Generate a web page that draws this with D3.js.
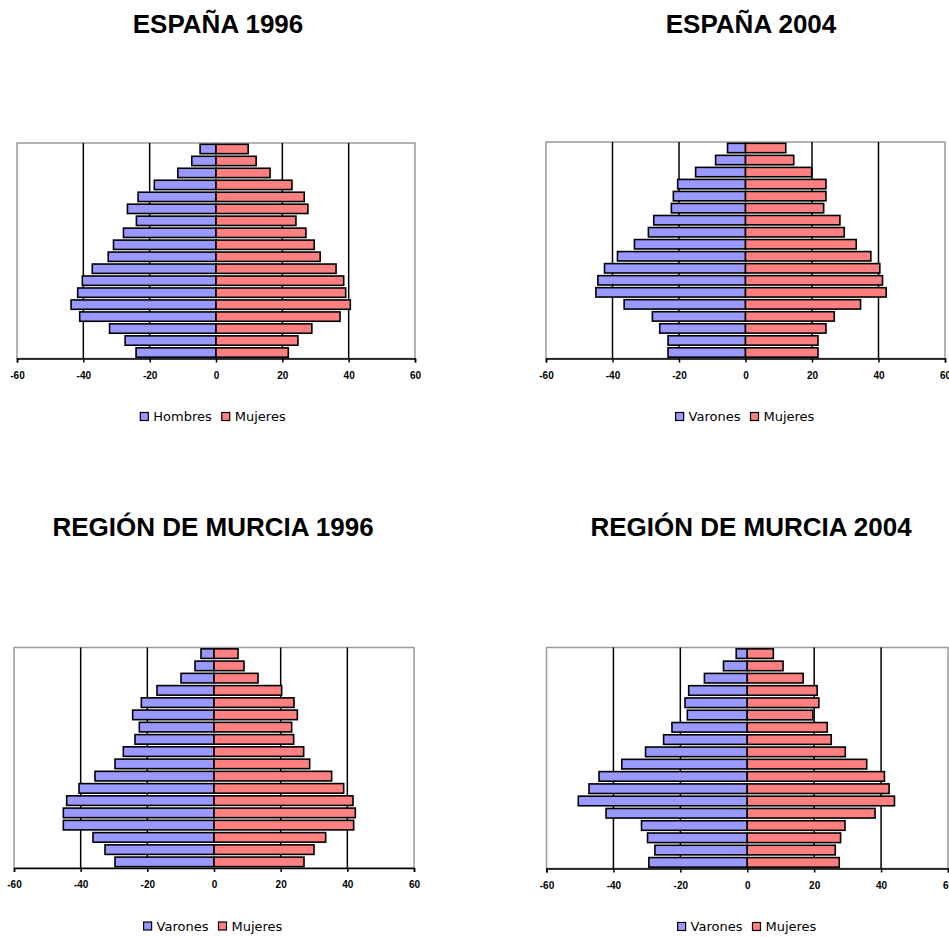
<!DOCTYPE html>
<html>
<head>
<meta charset="utf-8">
<script src="https://cdn.jsdelivr.net/npm/d3@7"></script>
<style>
  html, body { margin: 0; padding: 0; background: #ffffff; }
  svg { display: block; }
</style>
</head>
<body>
<svg id="chart" width="949" height="937"></svg>
<script>
// Age groups, youngest first (drawn bottom to top)
const ageGroups = ["0-4","5-9","10-14","15-19","20-24","25-29","30-34","35-39","40-44",
                   "45-49","50-54","55-59","60-64","65-69","70-74","75-79","80-84","85+"];

const tickValues = [-60, -40, -20, 0, 20, 40, 60];
const gridValues = [-40, -20, 20, 40];

const titles = ["ESPAÑA 1996", "ESPAÑA 2004", "REGIÓN DE MURCIA 1996", "REGIÓN DE MURCIA 2004"];
const maleLabels = ["Hombres", "Varones", "Varones", "Varones"];
const femaleLabel = "Mujeres";

const espana1996Men   = [24.1, 27.4, 32.1, 41.1, 43.7, 41.7, 40.3, 37.3, 32.5, 30.9, 27.9, 24.0, 26.7, 23.5, 18.6, 11.5, 7.3, 4.8];
const espana1996Women = [21.8, 24.7, 28.9, 37.4, 40.5, 39.1, 38.5, 36.2, 31.4, 29.6, 27.1, 24.1, 27.7, 26.6, 22.9, 16.3, 12.1, 9.7];

const espana2004Men   = [23.3, 23.3, 25.8, 28.0, 36.5, 45.0, 44.4, 42.4, 38.5, 33.4, 29.2, 27.6, 22.3, 21.7, 20.4, 15.0, 9.0, 5.4];
const espana2004Women = [21.8, 21.8, 24.2, 26.7, 34.6, 42.3, 41.2, 40.4, 37.7, 33.3, 29.7, 28.4, 23.5, 24.2, 24.2, 19.9, 14.5, 12.1];

const murcia1996Men   = [29.7, 32.7, 36.3, 45.2, 45.2, 44.2, 40.5, 35.7, 29.7, 27.2, 23.7, 22.4, 24.4, 21.8, 17.1, 9.9, 5.7, 3.9];
const murcia1996Women = [27.0, 30.0, 33.5, 41.9, 42.4, 41.7, 38.9, 35.3, 28.7, 26.9, 23.9, 23.3, 25.0, 24.0, 20.3, 13.2, 9.0, 7.2];

const murcia2004Men   = [29.4, 27.6, 29.8, 31.6, 42.2, 50.5, 47.3, 44.3, 37.5, 30.4, 25.0, 22.5, 17.9, 18.6, 17.5, 12.8, 7.1, 3.3];
const murcia2004Women = [27.5, 26.3, 27.9, 29.2, 38.2, 44.0, 42.4, 41.0, 35.7, 29.3, 25.1, 23.9, 19.6, 21.4, 20.9, 16.7, 10.7, 7.8];

const menSeries = [espana1996Men, espana2004Men, murcia1996Men, murcia2004Men];
const womenSeries = [espana1996Women, espana2004Women, murcia1996Women, murcia2004Women];

// Layout (positions only)
const panels = [
  { left: 17,  right: 415, top: 143,   bottom: 358.5, titleX: 218, titleY: 33,  legendX: 213 },
  { left: 546, right: 945, top: 142,   bottom: 358.5, titleX: 751, titleY: 33,  legendX: 745 },
  { left: 14,  right: 414, top: 647.5, bottom: 868,   titleX: 213, titleY: 536, legendX: 213 },
  { left: 546.5, right: 948, top: 647.5, bottom: 868.5, titleX: 751, titleY: 536, legendX: 747 }
];

const colMen = "#9999FF";
const colWomen = "#FF8080";

const svg = d3.select("#chart");

panels.forEach((p, i) => {
  const g = svg.append("g");
  const x = d3.scaleLinear().domain([-60, 60]).range([p.left, p.right]);
  const y = d3.scaleBand().domain(ageGroups.slice().reverse()).range([p.top, p.bottom])
              .paddingInner(0.22).paddingOuter(0.11);

  // Title
  g.append("text")
    .attr("x", p.titleX).attr("y", p.titleY)
    .attr("text-anchor", "middle")
    .attr("font-family", "'Liberation Sans', Arial, sans-serif")
    .attr("font-weight", "bold")
    .attr("font-size", 26)
    .attr("fill", "#000")
    .text(titles[i]);

  // Plot border
  g.append("rect")
    .attr("x", x(-60)).attr("y", p.top)
    .attr("width", x(60) - x(-60)).attr("height", p.bottom - p.top)
    .attr("fill", "none").attr("stroke", "#9a9a9a").attr("stroke-width", 1.5);

  // Gridlines
  g.selectAll(".grid").data(gridValues).enter().append("line")
    .attr("x1", d => x(d)).attr("x2", d => x(d))
    .attr("y1", p.top).attr("y2", p.bottom)
    .attr("stroke", "#000").attr("stroke-width", 1.5);

  const rows = ageGroups.map((a, k) => ({ age: a, m: menSeries[i][k], w: womenSeries[i][k] }));

  // Men bars (left)
  g.selectAll(".men").data(rows).enter().append("rect")
    .attr("x", d => x(-d.m)).attr("y", d => y(d.age))
    .attr("width", d => x(0) - x(-d.m)).attr("height", y.bandwidth())
    .attr("fill", colMen).attr("stroke", "#000").attr("stroke-width", 1.6);

  // Women bars (right)
  g.selectAll(".women").data(rows).enter().append("rect")
    .attr("x", x(0)).attr("y", d => y(d.age))
    .attr("width", d => x(d.w) - x(0)).attr("height", y.bandwidth())
    .attr("fill", colWomen).attr("stroke", "#000").attr("stroke-width", 1.6);

  // X axis
  const axis = d3.axisBottom(x).tickValues(tickValues).tickSize(4).tickSizeOuter(4)
                 .tickFormat(d => String(d));
  const ag = g.append("g").attr("transform", `translate(0,${p.bottom})`).call(axis);
  ag.select(".domain").attr("stroke", "#000").attr("stroke-width", 1.5);
  ag.selectAll(".tick line").attr("stroke", "#000").attr("stroke-width", 1.5);
  ag.selectAll(".tick text")
    .attr("y", 13)
    .attr("font-family", "'Liberation Sans', Arial, sans-serif")
    .attr("font-weight", "bold")
    .attr("font-size", 10)
    .attr("fill", "#000");

  // Legend
  const items = [{ label: maleLabels[i], color: colMen }, { label: femaleLabel, color: colWomen }];
  const lg = g.append("g");
  const ly = p.bottom + 58;
  let cx = 0;
  const entries = [];
  items.forEach(it => {
    const e = lg.append("g");
    e.append("rect").attr("x", 0).attr("y", -4).attr("width", 8).attr("height", 8)
      .attr("fill", it.color).attr("stroke", "#000").attr("stroke-width", 1.2);
    const t = e.append("text").attr("x", 13).attr("y", 0).attr("dy", "0.36em")
      .attr("font-family", "'DejaVu Sans', Verdana, sans-serif")
      .attr("font-size", 13).attr("fill", "#000").text(it.label);
    entries.push({ e, w: 13 + t.node().getComputedTextLength() });
  });
  const gap = 10;
  const total = entries.reduce((s, en) => s + en.w, 0) + gap;
  cx = p.legendX - total / 2;
  entries.forEach(en => {
    en.e.attr("transform", `translate(${cx},${ly})`);
    cx += en.w + gap;
  });
});
</script>
</body>
</html>
